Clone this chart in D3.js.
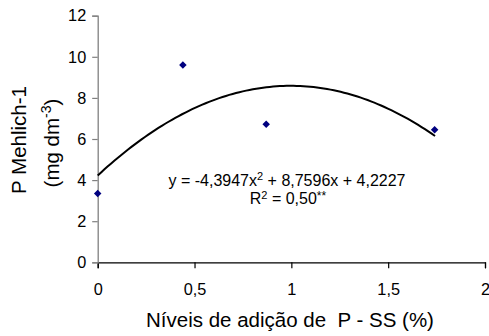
<!DOCTYPE html>
<html>
<head>
<meta charset="utf-8">
<script src="https://cdn.jsdelivr.net/npm/d3@7"></script>
<style>
  html, body { margin: 0; padding: 0; background: #fff; }
  svg { display: block; font-family: "Liberation Sans", Arial, sans-serif; }
</style>
</head>
<body>
<svg id="chart" width="489" height="336"></svg>
<script>
// Data
const xLevels = [0, 0.44, 0.87, 1.74];
const pValues = [3.35, 9.6, 6.72, 6.45];
const xTicks = [0, 0.5, 1, 1.5, 2];
const xTickLabels = ["0", "0,5", "1", "1,5", "2"];
const yTicks = [0, 2, 4, 6, 8, 10, 12];
const trendCoef = [4.2227, 8.7596, -4.3947]; // c0 + c1 x + c2 x^2
const trendRange = [0, 1.742];

const svg = d3.select("#chart");
const W = 489, H = 336;
const margin = { left: 97.7, top: 15.7, right: 4, bottom: 73.7 };

const x = d3.scaleLinear().domain([0, 2]).range([margin.left, W - margin.right]);
const y = d3.scaleLinear().domain([0, 12]).range([H - margin.bottom, margin.top]);

// Y axis (gray)
const yAxis = svg.append("g")
  .attr("transform", `translate(${x(0)},0)`)
  .call(d3.axisLeft(y).tickValues(yTicks).tickSize(5.5).tickPadding(6).tickFormat(d3.format("d")));
yAxis.select(".domain").attr("stroke", "#808080").attr("stroke-width", 1.3);
yAxis.selectAll(".tick line").attr("stroke", "#808080").attr("stroke-width", 1.2);
yAxis.selectAll(".tick text").attr("fill", "#000").style("font-size", "16.3px").attr("font-family", "Liberation Sans, Arial, sans-serif");

// X axis (black)
const xAxis = svg.append("g")
  .attr("transform", `translate(0,${y(0)})`)
  .call(d3.axisBottom(x).tickValues(xTicks).tickSize(6).tickPadding(15)
    .tickFormat((d, i) => xTickLabels[i]));
xAxis.select(".domain").attr("stroke", "#000").attr("stroke-width", 1.2);
xAxis.selectAll(".tick line").attr("stroke", "#000").attr("stroke-width", 1.2);
xAxis.selectAll(".tick text").attr("fill", "#000").style("font-size", "16.3px").attr("font-family", "Liberation Sans, Arial, sans-serif");
yAxis.raise();

// Trend curve
const curvePts = d3.range(0, 101).map(i => {
  const xv = trendRange[0] + (trendRange[1] - trendRange[0]) * i / 100;
  return [xv, trendCoef[0] + trendCoef[1] * xv + trendCoef[2] * xv * xv];
});
svg.append("path")
  .datum(curvePts)
  .attr("fill", "none")
  .attr("stroke", "#000")
  .attr("stroke-width", 2)
  .attr("d", d3.line().x(d => x(d[0])).y(d => y(d[1])));

// Points (diamonds)
const sym = d3.symbol().type(d3.symbolDiamond2).size(36);
svg.append("g").selectAll("path")
  .data(xLevels.map((v, i) => [v, pValues[i]]))
  .join("path")
  .attr("d", sym)
  .attr("transform", d => `translate(${x(d[0])},${y(d[1])})`)
  .attr("fill", "#000080");

// Equation text
const eq = svg.append("text")
  .attr("x", 287).attr("y", 186)
  .attr("text-anchor", "middle")
  .style("font-size", "16px").attr("fill", "#000");
eq.append("tspan").text("y = -4,3947x");
eq.append("tspan").attr("dy", -6).style("font-size", "11px").text("2");
eq.append("tspan").attr("dy", 6).text(" + 8,7596x + 4,2227");

const r2 = svg.append("text")
  .attr("x", 288).attr("y", 204)
  .attr("text-anchor", "middle")
  .style("font-size", "16px").attr("fill", "#000");
r2.append("tspan").text("R");
r2.append("tspan").attr("dy", -5).style("font-size", "11px").text("2");
r2.append("tspan").attr("dy", 5).text(" = 0,50");
r2.append("tspan").attr("dy", -4).style("font-size", "12px").text("**");

// X title
svg.append("text")
  .attr("x", 290).attr("y", 327)
  .attr("text-anchor", "middle")
  .style("font-size", "20.5px").attr("fill", "#000")
  .attr("xml:space", "preserve")
  .style("white-space", "pre")
  .text("Níveis de adição de  P - SS (%)");

// Y title (two lines)
svg.append("text")
  .attr("transform", "translate(26,140) rotate(-90)")
  .attr("text-anchor", "middle")
  .style("font-size", "20.5px").attr("fill", "#000")
  .text("P Mehlich-1");

const yt2 = svg.append("text")
  .attr("transform", "translate(59,143) rotate(-90)")
  .attr("text-anchor", "middle")
  .style("font-size", "20.5px").attr("fill", "#000");
yt2.append("tspan").text("(mg dm");
yt2.append("tspan").attr("dy", -8).style("font-size", "14px").text("-3");
yt2.append("tspan").attr("dy", 8).text(")");
</script>
</body>
</html>
